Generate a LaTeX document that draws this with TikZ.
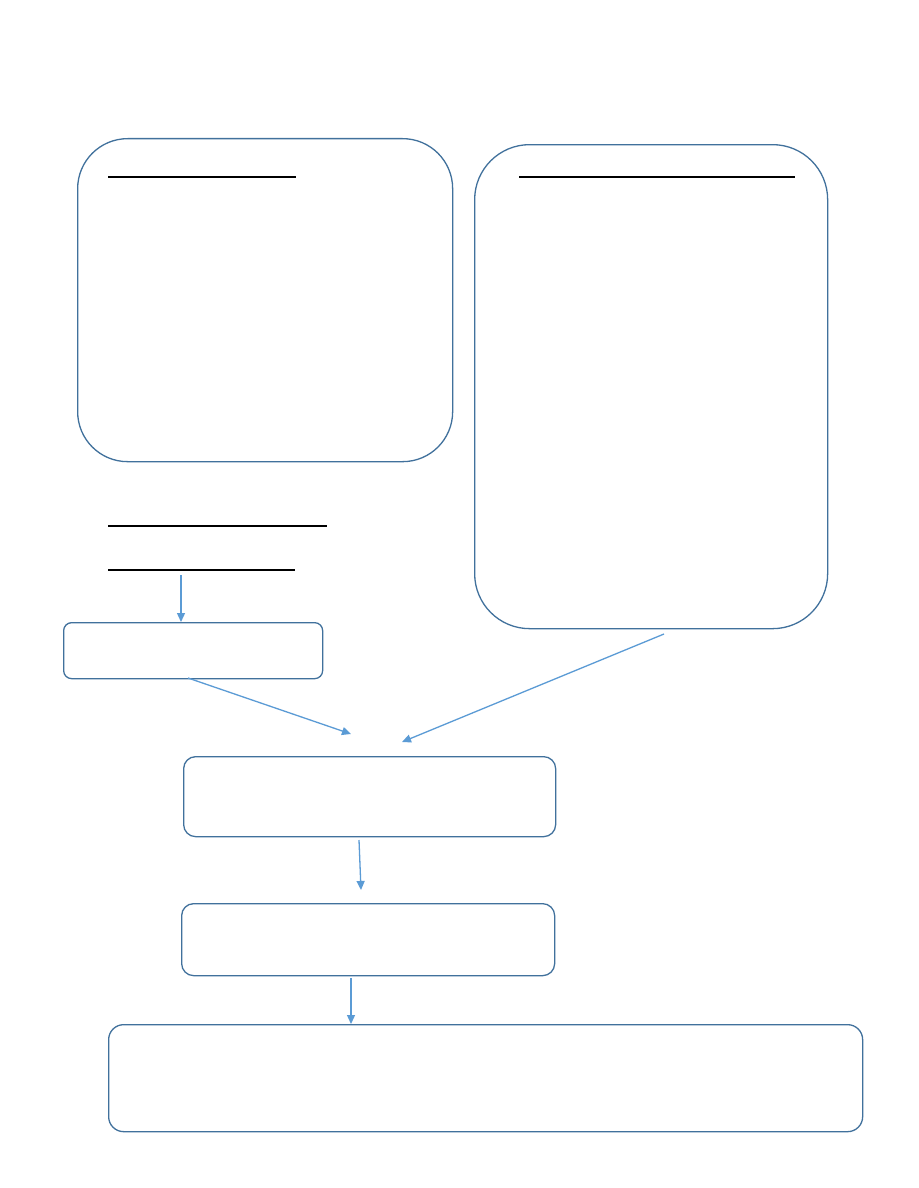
\documentclass[tikz,border=0pt]{standalone}
\usetikzlibrary{arrows.meta}
\definecolor{boxline}{HTML}{41719C}
\definecolor{arrowcol}{HTML}{5B9BD5}
\tikzset{
  box/.style={draw=boxline, line width=1.3pt, fill=white, rectangle, inner sep=0pt},
  uline/.style={draw=black, line width=2.6pt},
  conn/.style={draw=arrowcol, line width=1.3pt, -{Triangle[length=9pt,width=8pt]}},
}
\begin{document}
\begin{tikzpicture}[x=1pt,y=-1pt]
\useasboundingbox (0,0) rectangle (918,1188);
\fill[white] (0,0) rectangle (918,1188);
% boxes
\node[box, rounded corners=50pt, minimum width=375pt, minimum height=323pt, anchor=north west] (A) at (77,138) {};
\node[box, rounded corners=55pt, minimum width=353pt, minimum height=484pt, anchor=north west] (B) at (474,144) {};
\node[box, rounded corners=8pt, minimum width=259pt, minimum height=56pt, anchor=north west] (C) at (63,622) {};
\node[box, rounded corners=12pt, minimum width=372pt, minimum height=80pt, anchor=north west] (D) at (183,756) {};
\node[box, rounded corners=12pt, minimum width=373pt, minimum height=72pt, anchor=north west] (E) at (181,903) {};
\node[box, rounded corners=15pt, minimum width=754pt, minimum height=107pt, anchor=north west] (F) at (108,1024) {};
% underlines
\coordinate (a1) at (108,177); \coordinate (a2) at (296,177);
\coordinate (b1) at (519,177); \coordinate (b2) at (795,177);
\coordinate (u1) at (108,526); \coordinate (u2) at (327,526);
\coordinate (v1) at (108,570); \coordinate (v2) at (295,570);
\draw[uline] (a1) -- (a2);
\draw[uline] (b1) -- (b2);
\draw[uline] (u1) -- (u2);
\draw[uline] (v1) -- (v2);
% connectors
\coordinate (s1) at (181,575);
\coordinate (s2) at (188,678);
\coordinate (t2) at (351,734);
\coordinate (s3) at (664,634);
\coordinate (t3) at (402,742);
\coordinate (s4) at (359,840);
\coordinate (t4) at (361,890);
\coordinate (s5) at (351,978);
\draw[conn] (s1) -- (s1 |- C.north);
\draw[conn] (s2) -- (t2);
\draw[conn] (s3) -- (t3);
\draw[conn] (s4) -- (t4);
\draw[conn] (s5) -- (s5 |- F.north);
\end{tikzpicture}
\end{document}
